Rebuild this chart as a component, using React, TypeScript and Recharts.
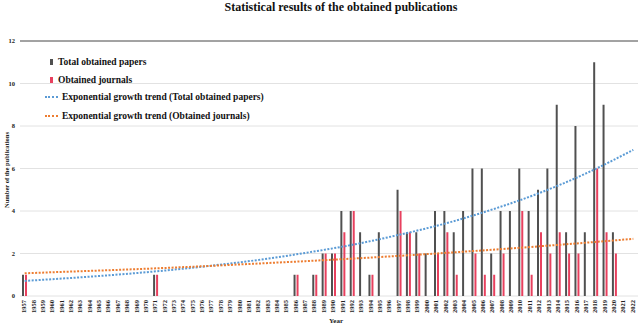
import {
  ComposedChart,
  Bar,
  Line,
  XAxis,
  YAxis,
  CartesianGrid,
  ReferenceLine,
} from "recharts";

const years = [
  "1957", "1958", "1959", "1960", "1961", "1962", "1963", "1964", "1965", "1966",
  "1967", "1968", "1969", "1970", "1971", "1972", "1973", "1974", "1975", "1976",
  "1977", "1978", "1979", "1980", "1981", "1982", "1983", "1984", "1985", "1986",
  "1987", "1988", "1989", "1990", "1991", "1992", "1993", "1994", "1995", "1996",
  "1997", "1998", "1999", "2000", "2001", "2002", "2003", "2004", "2005", "2006",
  "2007", "2008", "2009", "2010", "2011", "2012", "2013", "2014", "2015", "2016",
  "2017", "2018", "2019", "2020", "2021", "2022",
];

// per year, 1957..2022
const totalPapers = [
  1, 0, 0, 0, 0, 0, 0, 0, 0, 0,
  0, 0, 0, 0, 1, 0, 0, 0, 0, 0,
  0, 0, 0, 0, 0, 0, 0, 0, 0, 1,
  0, 1, 2, 2, 4, 4, 3, 1, 3, 0,
  5, 3, 3, 2, 4, 4, 3, 4, 6, 6,
  2, 4, 4, 6, 4, 5, 6, 9, 3, 8,
  3, 11, 9, 3, 0, 0,
];

const journals = [
  1, 0, 0, 0, 0, 0, 0, 0, 0, 0,
  0, 0, 0, 0, 1, 0, 0, 0, 0, 0,
  0, 0, 0, 0, 0, 0, 0, 0, 0, 1,
  0, 1, 2, 2, 3, 4, 0, 1, 0, 0,
  4, 3, 2, 0, 2, 3, 1, 0, 2, 1,
  1, 2, 0, 4, 1, 3, 2, 3, 2, 2,
  0, 6, 3, 2, 0, 0,
];

// trend values
const trendYears = ["1957", "1962", "1967", "1972", "1977", "1982", "1987", "1992", "1997", "2002", "2007", "2012", "2017", "2022"];
const trendTotal = [0.71, 0.85, 1.01, 1.2, 1.43, 1.7, 2.03, 2.41, 2.88, 3.42, 4.08, 4.85, 5.78, 6.88];
const trendJournals = [1.07, 1.15, 1.23, 1.32, 1.42, 1.53, 1.64, 1.76, 1.89, 2.03, 2.18, 2.34, 2.51, 2.69];

const yTicks = [0, 2, 4, 6, 8, 10, 12];

const data = years.map((year, i) => {
  const t = trendYears.indexOf(year);
  return {
    year,
    total: totalPapers[i],
    journals: journals[i],
    trendTotal: t >= 0 ? trendTotal[t] : null,
    trendJournals: t >= 0 ? trendJournals[t] : null,
  };
});

const serif = "'Liberation Serif', 'Times New Roman', serif";
const BLACK = "#505050";
const RED = "#E8405E";
const BLUE = "#5B9BD5";
const ORANGE = "#ED7D31";

const YearTick = ({ x, payload }: any) => (
  <text
    transform={`translate(${x - 1},${300}) rotate(-90)`}
    textAnchor="end"
    dominantBaseline="central"
    fontSize={6.5}
    fontWeight="bold"
    fontFamily={serif}
    fill="#222"
  >
    {payload.value}
  </text>
);

const LegendBox = () => {
  const text = {
    position: "absolute" as const,
    fontSize: 9.5,
    fontWeight: "bold" as const,
    fontFamily: serif,
    color: "#111",
    whiteSpace: "nowrap" as const,
    lineHeight: "12px",
  };
  return (
    <div style={{ position: "absolute", left: 40, top: 53, width: 300, height: 80 }}>
      <div style={{ position: "absolute", left: 10, top: 6, width: 3, height: 6, background: BLACK }} />
      <div style={{ ...text, left: 18, top: 3 }}>Total obtained papers</div>
      <div style={{ position: "absolute", left: 10, top: 24, width: 3, height: 6, background: RED }} />
      <div style={{ ...text, left: 18, top: 21 }}>Obtained journals</div>
      <div style={{ position: "absolute", left: 5, top: 43, width: 13, borderTop: `2px dotted ${BLUE}` }} />
      <div style={{ ...text, left: 22, top: 38 }}>Exponential growth trend (Total obtained papers)</div>
      <div style={{ position: "absolute", left: 5, top: 62, width: 13, borderTop: `2px dotted ${ORANGE}` }} />
      <div style={{ ...text, left: 22, top: 57 }}>Exponential growth trend (Obtained journals)</div>
    </div>
  );
};

export default function App() {
  return (
    <div style={{ position: "absolute", left: 0, top: 0, width: 640, height: 325, background: "#fff" }}>
      <div
        style={{
          position: "absolute",
          left: 0,
          width: 682,
          top: 0,
          textAlign: "center",
          fontFamily: serif,
          fontWeight: "bold",
          fontSize: 12,
          color: "#111",
        }}
      >
        Statistical results of the obtained publications
      </div>
      <ComposedChart
        width={640}
        height={325}
        data={data}
        margin={{ top: 41, right: 2, left: 0, bottom: 5 }}
        barSize={2}
        barGap={1}
      >
        <CartesianGrid vertical={false} stroke="#e2e2e2" strokeWidth={1} />
        <ReferenceLine y={12} stroke="#888" strokeWidth={1.5} />
        <XAxis
          dataKey="year"
          interval={0}
          tick={<YearTick />}
          tickLine={false}
          axisLine={false}
          height={24}
        />
        <YAxis
          domain={[0, 12]}
          ticks={yTicks}
          width={20}
          tickLine={false}
          axisLine={false}
          tickSize={0}
          tickMargin={5}
          tick={{ fontSize: 6.5, fontWeight: "bold", fontFamily: serif, fill: "#222" }}
        />
        <Bar dataKey="total" fill={BLACK} isAnimationActive={false} />
        <Bar dataKey="journals" fill={RED} isAnimationActive={false} />
        <Line
          type="monotone"
          dataKey="trendTotal"
          stroke={BLUE}
          strokeWidth={2}
          strokeDasharray="2 1.5"
          dot={false}
          connectNulls
          isAnimationActive={false}
        />
        <Line
          type="monotone"
          dataKey="trendJournals"
          stroke={ORANGE}
          strokeWidth={2}
          strokeDasharray="2 1.5"
          dot={false}
          connectNulls
          isAnimationActive={false}
        />
      </ComposedChart>
      <LegendBox />
      <div
        style={{
          position: "absolute",
          left: 336,
          top: 321,
          transform: "translate(-50%, -50%)",
          fontFamily: serif,
          fontWeight: "bold",
          fontSize: 7,
          color: "#222",
        }}
      >
        Year
      </div>
      <div
        style={{
          position: "absolute",
          left: 6,
          top: 170,
          transform: "translate(-50%, -50%) rotate(-90deg)",
          fontFamily: serif,
          fontWeight: "bold",
          fontSize: 6.5,
          color: "#222",
          whiteSpace: "nowrap",
        }}
      >
        Number of the publications
      </div>
    </div>
  );
}
